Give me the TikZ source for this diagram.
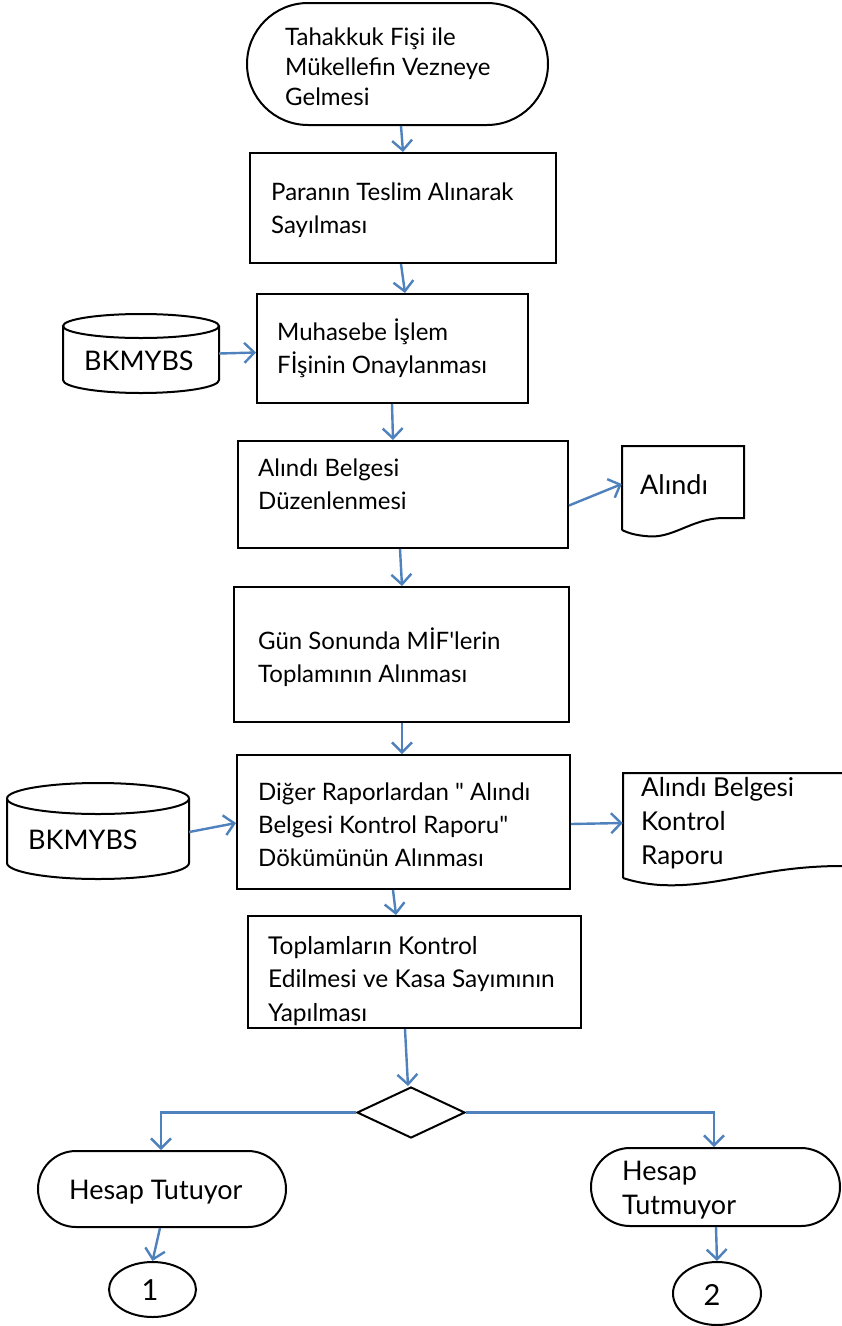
\documentclass[tikz,border=0pt]{standalone}
\usepackage{fontspec}
\newfontfamily\dfont{Lato}
\usetikzlibrary{arrows.meta,shapes.geometric}
\definecolor{conn}{RGB}{79,129,189}
\tikzset{
  shp/.style={draw=black,line width=2pt,inner sep=0pt,fill=white},
  term/.style={shp,rectangle,rounded corners=#1},
  txt/.style={anchor=west,align=left,inner sep=0pt,font=\dfont\fontsize{24}{33}\selectfont},
  txtb/.style={txt,font=\dfont\fontsize{27}{34}\selectfont},
  conn/.style={draw=conn,line width=2.4pt,-{Straight Barb[length=10pt,width=20pt,line width=2.4pt]}},
}
\begin{document}
\begin{tikzpicture}[x=1pt,y=-1pt]
\useasboundingbox (0,0) rectangle (842,1326);
\fill[white] (0,0) rectangle (842,1326);

% start terminator
\node[term=61pt,minimum width=301pt,minimum height=122pt] (start) at (397.5,64) {};
\node[txt,font=\dfont\fontsize{24}{30}\selectfont] (tstart) at (285,67) {Tahakkuk Fişi ile\\Mükellefin Vezneye\\Gelmesi};

% box 2
\node[shp,minimum width=306pt,minimum height=110pt] (b2) at (403,208) {};
\node[txt] (tb2) at (271,210) {Paranın Teslim Alınarak\\Sayılması};

% box 3
\node[shp,minimum width=271pt,minimum height=109pt] (b3) at (392.5,348.5) {};
\node[txt] (tb3) at (277,348) {Muhasebe İşlem\\Fİşinin Onaylanması};

% box 4
\node[shp,minimum width=330pt,minimum height=107pt] (b4) at (403,494.5) {};
\node[txt] (tb4) at (258,484) {Alındı Belgesi\\Düzenlenmesi};

% box 5
\node[shp,minimum width=335pt,minimum height=135pt] (b5) at (401.5,654.5) {};
\node[txt] (tb5) at (258,657) {Gün Sonunda MİF'lerin\\Toplamının Alınması};

% box 6
\node[shp,minimum width=333pt,minimum height=134pt] (b6) at (403.5,822) {};
\node[txt] (tb6) at (258,825) {Diğer Raporlardan " Alındı\\Belgesi Kontrol Raporu"\\Dökümünün Alınması};

% box 7
\node[shp,minimum width=333pt,minimum height=112pt] (b7) at (414.5,972) {};
\node[txt,font=\dfont\fontsize{24.5}{33.5}\selectfont] (tb7) at (268,981) {Toplamların Kontrol\\Edilmesi ve Kasa Sayımının\\Yapılması};

% diamond
\node[shp,diamond,minimum width=108pt,minimum height=51pt] (dec) at (411,1112.5) {};

% terminators bottom
\node[term=38pt,minimum width=248pt,minimum height=76pt] (tl) at (162,1189) {};
\node[txt,font=\dfont\fontsize{27}{34}\selectfont] (ttl) at (69,1192) {Hesap Tutuyor};
\node[term=39pt,minimum width=249pt,minimum height=78pt] (tr) at (715.5,1187) {};
\node[txt,font=\dfont\fontsize{27}{34}\selectfont] (ttr) at (622,1190) {Hesap\\Tutmuyor};

% connectors (ellipses)
\node[shp,ellipse,minimum width=87pt,minimum height=55pt] (c1) at (152.5,1289.5) {};
\node[font=\dfont\fontsize{29}{30}\selectfont,inner sep=0pt] (tc1) at (150,1290) {1};
\node[shp,ellipse,minimum width=88pt,minimum height=63pt] (c2) at (717,1293.5) {};
\node[font=\dfont\fontsize{29}{30}\selectfont,inner sep=0pt] (tc2) at (712,1295) {2};

% cylinder 1
\node[minimum width=156pt,minimum height=79pt,inner sep=0pt] (db1) at (141,353.5) {};
\draw[line width=2pt,fill=white] (63,326) -- (63,380) arc[start angle=180,end angle=0,x radius=78,y radius=13] -- (219,326);
\draw[line width=2pt] (141,326) ellipse[x radius=78,y radius=12];
\node[txtb] (tdb1) at (84,361) {BKMYBS};

% cylinder 2
\node[minimum width=182pt,minimum height=96pt,inner sep=0pt] (db2) at (98,831) {};
\draw[line width=2pt,fill=white] (7,798.5) -- (7,863) arc[start angle=180,end angle=0,x radius=91,y radius=16] -- (189,798.5);
\draw[line width=2pt] (98,798.5) ellipse[x radius=91,y radius=15.5];
\node[txtb] (tdb2) at (28,840) {BKMYBS};

% document 1
\node[minimum width=122pt,minimum height=84pt,inner sep=0pt] (d1) at (683,488) {};
\draw[line width=2pt,fill=white] (622,530) -- (622,446) -- (744,446) -- (744,518) -- (722,518)
  .. controls (690,519) and (672,540) .. (645,536) .. controls (635,535) and (628,533) .. (622,530);
\node[txtb] (td1) at (640,485) {Alındı};

% document 2
\node[minimum width=222pt,minimum height=108pt,inner sep=0pt] (d2) at (734,827) {};
\draw[line width=2pt,fill=white] (623,878) -- (623,773) -- (850,773) -- (850,866) -- (842,866)
  .. controls (760,866) and (720,888) .. (660,885) .. controls (645,884) and (632,881) .. (623,878);
\node[txt,font=\dfont\fontsize{26}{34}\selectfont] (td2) at (641,823) {Alındı Belgesi\\Kontrol\\Raporu};

% flow connectors
\draw[conn] ([xshift=3.5pt]start.south) -- ([xshift=0pt]b2.north);
\draw[conn] ([xshift=-2pt]b2.south) -- ([xshift=12.5pt]b3.north);
\draw[conn] ([xshift=-0.5pt]b3.south) -- ([xshift=-10pt]b4.north);
\draw[conn] ([xshift=-3pt]b4.south) -- ([xshift=0.5pt]b5.north);
\draw[conn] ([xshift=0.5pt]b5.south) -- ([xshift=-1.5pt]b6.north);
\draw[conn] ([xshift=-10.5pt]b6.south) -- ([xshift=-18.5pt]b7.north);
\draw[conn] ([xshift=-9.5pt]b7.south) -- ([xshift=-3pt]dec.north);
\draw[conn] (dec.west) -| (tl.north -| 161,0);
\draw[conn] (dec.east) -| (tr.north -| 714,0);
\draw[conn] ([xshift=-2pt]tl.south) -- (c1.north);
\draw[conn] ([xshift=0.5pt]tr.south) -- (c2.north);

% side connectors
\draw[conn] (db1.east) -- ([yshift=-4pt]b3.west);
\draw[conn] ([yshift=-11pt]b4.east) -- ([yshift=4pt]d1.west);
\draw[conn] ([yshift=-1pt]db2.east) -- ([yshift=-1pt]b6.west);
\draw[conn] ([yshift=-2pt]b6.east) -- ([yshift=4pt]d2.west);
\end{tikzpicture}
\end{document}
